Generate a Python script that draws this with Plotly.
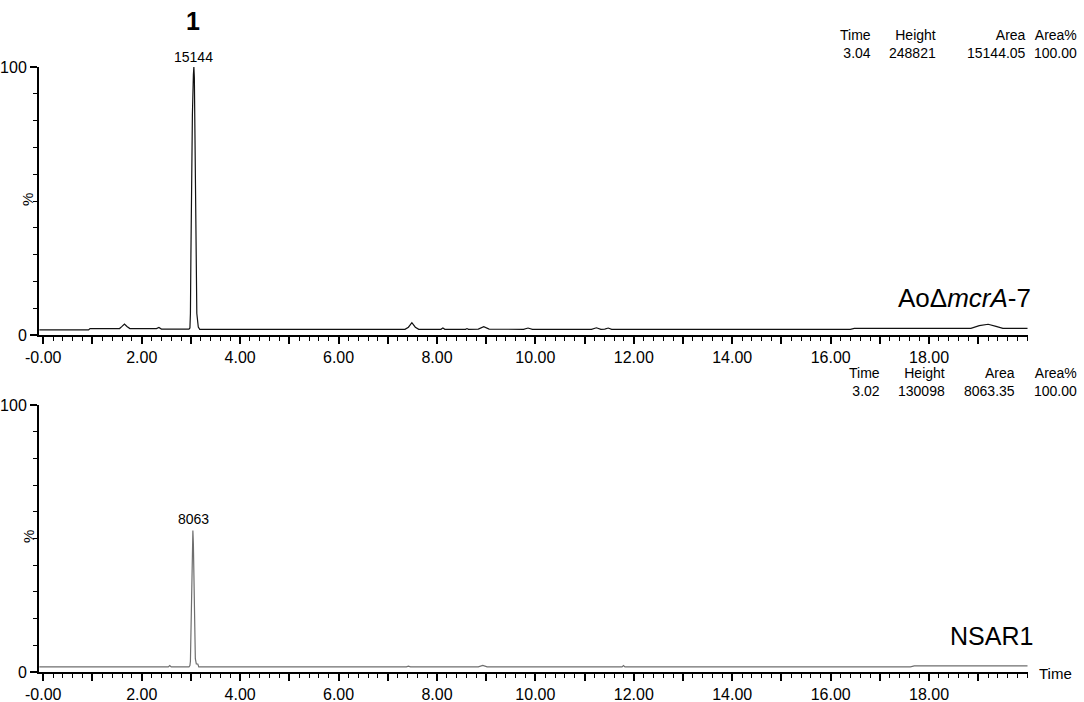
import plotly.graph_objects as go

W, H = 1084, 702

# ---------------- data ----------------
top_time = [-0.08, 0.92, 0.95, 1.55, 1.60, 1.65, 1.70, 1.76, 2.30, 2.35, 2.40, 2.96,
            2.98, 2.99, 3.00, 3.01, 3.03, 3.05, 3.06, 3.07, 3.08, 3.09, 3.10, 3.12, 3.15, 3.18,
            7.35, 7.42, 7.49, 7.56, 7.63, 8.08, 8.12, 8.16, 8.58, 8.61, 8.64,
            8.84, 8.95, 9.06, 9.76, 9.85, 9.94, 10.92, 10.95, 10.98,
            11.14, 11.24, 11.33, 11.41, 11.48, 11.55, 16.40, 16.48,
            18.85, 19.02, 19.20, 19.36, 19.50, 20.00]
top_pct = [1.9, 1.9, 2.4, 2.4, 3.2, 4.1, 3.2, 2.4, 2.4, 2.8, 2.2, 2.2,
           2.6, 8.0, 30.0, 55.0, 82.0, 97.0, 100.0, 96.0, 78.0, 50.0, 25.0, 8.0, 3.0, 2.1,
           2.1, 2.9, 4.6, 2.9, 2.1, 2.1, 2.6, 2.1, 2.1, 2.4, 2.1,
           2.2, 3.1, 2.2, 2.1, 2.6, 2.1, 2.1, 2.3, 2.1,
           2.1, 2.7, 2.1, 2.2, 2.6, 2.1, 2.1, 2.5,
           2.5, 3.5, 4.0, 3.2, 2.5, 2.5]

bot_time = [-0.08, 2.54, 2.57, 2.60, 2.96, 2.98, 2.99, 3.00, 3.01, 3.02, 3.03, 3.04,
            3.05, 3.06, 3.07, 3.08, 3.09, 3.11, 3.14, 3.16, 7.38, 7.42, 7.46,
            8.84, 8.93, 9.02, 11.76, 11.79, 11.82, 17.62, 17.70, 20.00]
bot_pct = [1.9, 1.9, 2.4, 1.9, 1.9, 2.4, 4.0, 15.0, 30.0, 42.0, 50.0, 53.0,
           48.0, 38.0, 25.0, 12.0, 5.0, 3.0, 3.0, 1.9, 1.9, 2.2, 1.9,
           1.9, 2.5, 1.9, 1.9, 2.4, 1.9, 1.9, 2.3, 2.3]

tick_vals = list(range(0, 20))
tick_text = [("-0.00" if v == 0 else f"{v:.2f}") if v % 2 == 0 else "" for v in tick_vals]

top_table = [("Time", "3.04"), ("Height", "248821"), ("Area", "15144.05"), ("Area%", "100.00")]
bot_table = [("Time", "3.02"), ("Height", "130098"), ("Area", "8063.35"), ("Area%", "100.00")]
top_peak_label = "15144"
bot_peak_label = "8063"
top_name = "AoΔ<i>mcrA</i>-7"
bot_name = "NSAR1"

# ---------------- figure ----------------
FONT = "Liberation Sans, Arial, sans-serif"
XR = [-0.087, 20.01]


def px(x, y):
    return x / W, 1 - y / H


fig = go.Figure()
fig.add_trace(go.Scatter(x=top_time, y=top_pct, mode="lines",
                         line=dict(color="#111111", width=1.2), xaxis="x", yaxis="y",
                         showlegend=False, hoverinfo="skip"))
fig.add_trace(go.Scatter(x=bot_time, y=bot_pct, mode="lines",
                         line=dict(color="#6e6e6e", width=1.2), xaxis="x2", yaxis="y2",
                         showlegend=False, hoverinfo="skip"))

xdom = [39 / W, 1028 / W]
common_x = dict(range=XR, domain=xdom, showline=True, linecolor="black", linewidth=2,
                ticks="outside", ticklen=7, tickwidth=1.5, tickcolor="black",
                tickmode="array", tickvals=tick_vals, ticktext=tick_text,
                showgrid=False, zeroline=False, automargin=False,
                tickfont=dict(family=FONT, size=16, color="black"),
                minor=dict(dtick=0.2, tick0=0, ticks="outside", ticklen=4,
                           tickwidth=1.2, tickcolor="black", showgrid=False))
common_y = dict(range=[0, 100], showline=True, linecolor="black", linewidth=2,
                ticks="outside", ticklen=7, tickwidth=1.5, tickcolor="black",
                tickmode="array", tickvals=[0, 100], ticktext=["0", "100"],
                showgrid=False, zeroline=False, automargin=False,
                tickfont=dict(family=FONT, size=16, color="black"),
                minor=dict(dtick=10, tick0=0, ticks="outside", ticklen=4,
                           tickwidth=1.2, tickcolor="black", showgrid=False))

fig.update_layout(
    template="none",
    width=W, height=H, margin=dict(l=0, r=0, t=0, b=0, pad=0, autoexpand=False),
    paper_bgcolor="white", plot_bgcolor="white",
    xaxis=dict(anchor="y", **common_x),
    yaxis=dict(anchor="x", domain=[1 - 335 / H, 1 - 67 / H], **common_y),
    xaxis2=dict(anchor="y2", **common_x),
    yaxis2=dict(anchor="x2", domain=[1 - 672 / H, 1 - 405 / H], **common_y),
)

ann = []


def add_text(text, x, y, size, xanchor="center", bold=False, angle=0, align="center"):
    ax, ay = px(x, y)
    ann.append(dict(text=f"<b>{text}</b>" if bold else text, x=ax, y=ay, xref="paper", yref="paper",
                    xanchor=xanchor, yanchor="middle", showarrow=False, textangle=angle,
                    align=align, font=dict(family=FONT, size=size, color="black")))


add_text("1", 193, 21, 25, bold=True)
add_text(top_peak_label, 193, 57, 14)
add_text(bot_peak_label, 193, 519, 14)

rights_top = [873, 938, 1028, 1079]
rights_bot = [882, 947, 1017, 1079]
for (h, v), r in zip(top_table, rights_top):
    add_text(f"{h}<br>{v}", r, 44, 14, xanchor="right", align="right")
for (h, v), r in zip(bot_table, rights_bot):
    add_text(f"{h}<br>{v}", r, 382, 14, xanchor="right", align="right")

add_text(top_name, 1033, 298, 26, xanchor="right")
add_text(bot_name, 1035, 636, 25, xanchor="right")
add_text("Time", 1037, 673, 15, xanchor="left")
add_text("%", 28, 200, 15, angle=-90)
add_text("%", 28, 537, 15, angle=-90)

fig.update_layout(annotations=ann)
fig.write_html("out.html", config={"displayModeBar": False},
               post_script="document.body.style.margin='0px';document.body.style.overflow='hidden';")
